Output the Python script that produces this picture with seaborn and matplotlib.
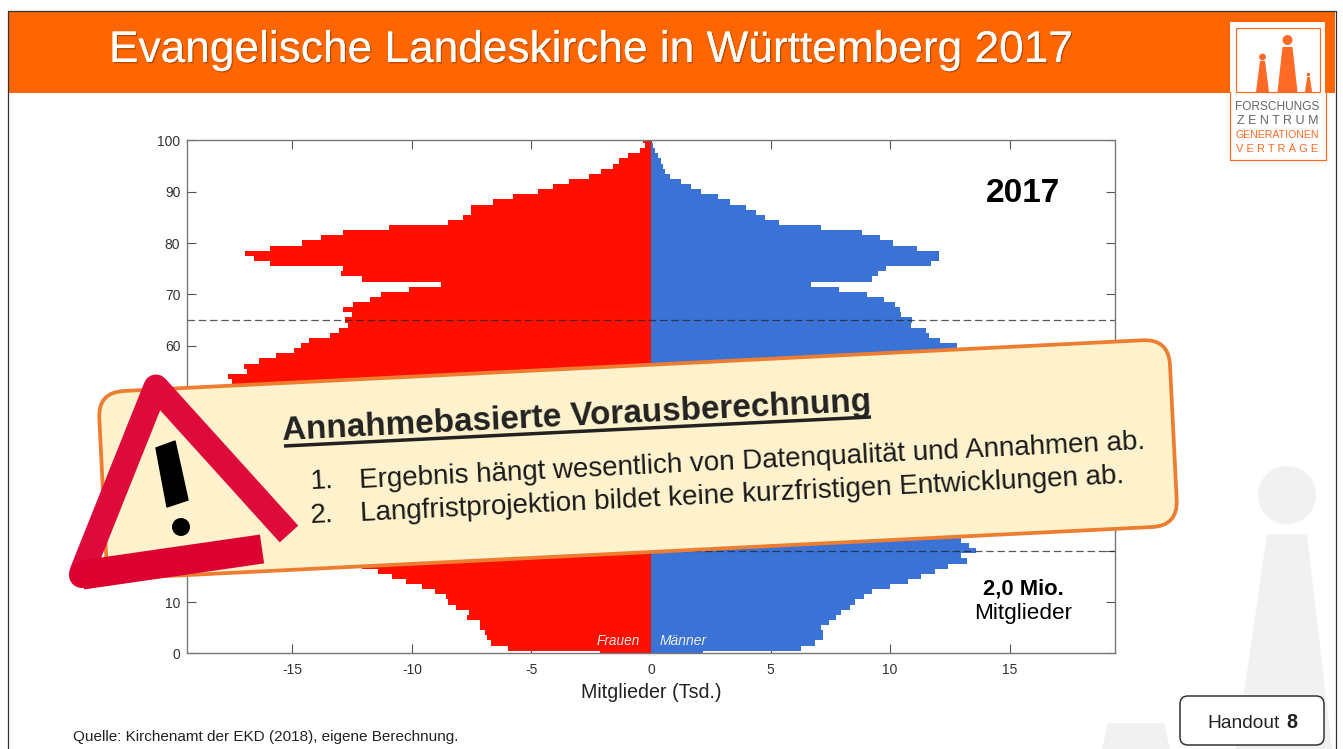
import numpy as np
import pandas as pd
import matplotlib
matplotlib.use("Agg")
import matplotlib.pyplot as plt
import matplotlib.patheffects as pe
from matplotlib.patches import FancyBboxPatch, Polygon, Circle, Rectangle
from matplotlib.transforms import Affine2D
import seaborn as sns

# ---- data (members in thousands, by age 0..100) ----
ages = list(range(0, 101))
women = [2.15, 5.97, 6.68, 6.86, 6.95, 7.14, 7.17, 7.68, 7.61, 8.14,
         8.49, 8.56, 9.04, 9.57, 10.26, 10.82, 11.41, 12.08, 12.6, 12.9,
         13.1, 13.0, 12.8, 12.5, 12.2, 11.9, 11.6, 11.4, 11.2, 11.1,
         11.0, 11.0, 11.1, 11.2, 11.3, 11.5, 11.8, 12.0, 12.3, 12.6,
         13.0, 13.4, 13.8, 14.2, 14.6, 15.0, 15.5, 15.8, 16.2, 16.5,
         16.8, 17.1, 17.3, 17.54, 17.7, 16.91, 17.02, 16.38, 15.68, 14.93,
         14.65, 14.3, 13.45, 13.07, 12.68, 12.82, 12.5, 12.9, 12.48, 11.75,
         11.28, 10.13, 8.79, 12.08, 12.96, 12.89, 15.93, 16.6, 16.98, 15.93,
         14.62, 13.8, 12.87, 10.96, 8.48, 7.87, 7.52, 7.52, 6.62, 5.78,
         4.73, 4.11, 3.45, 2.6, 2.09, 1.6, 1.32, 0.96, 0.48, 0.27, 0.34]
men = [2.17, 6.28, 6.87, 7.19, 7.19, 7.12, 7.45, 7.72, 7.97, 8.33,
       8.54, 8.93, 9.25, 9.98, 10.77, 11.3, 11.89, 12.42, 13.2, 12.98,
       13.6, 13.3, 12.97, 12.8, 12.5, 12.2, 11.9, 11.6, 11.4, 11.2,
       11.1, 11.0, 11.0, 11.1, 11.2, 11.3, 11.5, 11.7, 11.9, 12.1,
       12.3, 12.5, 12.7, 12.9, 13.1, 13.3, 13.5, 13.7, 13.9, 14.0,
       14.1, 14.2, 14.1, 14.0, 13.9, 13.8, 13.7, 13.6, 13.4, 13.1,
       12.82, 12.09, 11.61, 11.49, 10.89, 10.93, 10.47, 10.4, 10.2, 9.74,
       9.02, 7.86, 6.69, 9.23, 9.5, 9.85, 11.72, 12.03, 12.07, 11.14,
       10.12, 9.59, 8.81, 7.13, 5.35, 4.79, 4.4, 3.98, 3.3, 2.81,
       2.11, 1.68, 1.26, 0.8, 0.58, 0.5, 0.43, 0.29, 0.17, 0.08, 0.02]
x_ticks = [-15, -10, -5, 0, 5, 10, 15]
y_ticks = list(range(0, 101, 10))
guide_ages = [65, 20]

W, H = 1343, 749
FONT = "Liberation Sans"
plt.rcParams["font.family"] = [FONT, "DejaVu Sans"]
sns.set_style("white")
plt.rcParams["font.family"] = [FONT, "DejaVu Sans"]

RED, BLUE = "#FF0F00", "#3A72D6"
ORANGE, BOX_EDGE, BOX_FILL = "#FF6600", "#ED7D31", "#FFF2CC"
GHOST, LOGO = "#F1F1F1", "#FF6A26"

fig = plt.figure(figsize=(W / 100, H / 100), dpi=100, facecolor="white")


def pixel_axes(z):
    a = fig.add_axes([0, 0, 1, 1], zorder=z)
    a.set_xlim(0, W)
    a.set_ylim(H, 0)
    a.axis("off")
    a.patch.set_alpha(0)
    return a


# ---- slide background ----
bg = pixel_axes(0)
bg.add_patch(Circle((1287, 495), 29, fc=GHOST, ec="none"))
bg.add_patch(Polygon([(1267, 534), (1307, 534), (1332, 749), (1236, 749)], fc=GHOST, ec="none"))
bg.add_patch(Polygon([(1108, 723), (1164, 723), (1170, 749), (1102, 749)], fc=GHOST, ec="none"))
bg.add_patch(Rectangle((8, 11), 1327, 82, fc=ORANGE, ec="none"))
bg.plot([7.5, 7.5, 1335.5, 1335.5], [749, 10.5, 10.5, 749], color="#333333", lw=0.9)
bg.text(109, 50.5, "Evangelische Landeskirche in Württemberg 2017", color="white",
        fontsize=31.85, va="center", ha="left",
        path_effects=[pe.withSimplePatchShadow(offset=(1.0, -1.0), shadow_rgbFace="#8a3a00", alpha=0.6), pe.Normal()])
bg.text(73, 737, "Quelle: Kirchenamt der EKD (2018), eigene Berechnung.", color="#222222",
        fontsize=11, va="center", ha="left")

# ---- pyramid ----
L, R, T, B = 187.3, 1114.7, 140.5, 653.3
ax = fig.add_axes([L / W, 1 - B / H, (R - L) / W, (B - T) / H], zorder=1, facecolor="white")
df = pd.DataFrame({
    "Alter": ages + ages,
    "Mitglieder": [-v for v in women] + men,
    "Geschlecht": ["Frauen"] * len(ages) + ["Männer"] * len(ages),
})
sns.barplot(data=df, x="Mitglieder", y="Alter", hue="Geschlecht", orient="y", native_scale=True,
            dodge=False, width=1, palette={"Frauen": RED, "Männer": BLUE}, saturation=1,
            linewidth=0, errorbar=None, legend=False, ax=ax)
ax.set_xlim(-19.4, 19.4)
ax.set_ylim(0, 100)
ax.set_xticks(x_ticks)
ax.set_yticks(y_ticks)
ax.set_xticklabels([str(v) for v in x_ticks])
ax.tick_params(axis="both", direction="in", length=6.5, width=0.8, color="#555555",
               labelcolor="#333333", labelsize=10, top=True, right=True, bottom=True, left=True)
ax.tick_params(axis="x", pad=7)
ax.tick_params(axis="y", pad=5)
for s in ax.spines.values():
    s.set_color("#777777")
    s.set_linewidth(1.0)
for g in guide_ages:
    ax.axhline(g, color="#222222", alpha=0.75, lw=0.9, ls=(0, (6, 3)))
ax.set_xlabel("")
ax.set_ylabel("")
ax.text(-0.45, 2.4, "Frauen", color="white", style="italic", fontsize=9.8, ha="right", va="center", alpha=0.9)
ax.text(0.35, 2.4, "Männer", color="white", style="italic", fontsize=10, ha="left", va="center", alpha=0.9)

# ---- overlay ----
ov = pixel_axes(2)
ov.text(651.5, 692.5, "Mitglieder (Tsd.)", ha="center", va="center", fontsize=14.1, color="#222222")
ov.text(1023, 194, "2017", ha="center", va="center", fontsize=24, fontweight="bold", color="black")
ov.text(1023, 589, "2,0 Mio.", ha="center", va="center", fontsize=15.8, fontweight="bold", color="black")
ov.text(1023, 614, "Mitglieder", ha="center", va="center", fontsize=16.2, color="black")

# warning box
ANG = -2.85
cx, cy = 638, 459
bw, bh = 1072, 187
rot = Affine2D().rotate_deg_around(cx, cy, ANG) + ov.transData
ov.add_patch(FancyBboxPatch((cx - bw / 2 + 26, cy - bh / 2 + 26), bw - 52, bh - 52,
                            boxstyle="round,pad=26,rounding_size=26", fc=BOX_FILL, ec=BOX_EDGE,
                            lw=2.7, transform=rot, zorder=3))
TXT = "#1a1a1a"
ov.text(283, 440, "Annahmebasierte Vorausberechnung", fontsize=23.96, fontweight="bold", color="#222222",
        rotation=-ANG, rotation_mode="anchor", ha="left", va="baseline", zorder=5)
ov.plot([284, 871], [446, 417], color="#222222", lw=2.5, zorder=5, solid_capstyle="butt")
for xn, yn, xt, yt, num, line in [
    (311, 489, 360, 488, "1.", "Ergebnis hängt wesentlich von Datenqualität und Annahmen ab."),
    (311, 523, 361, 521, "2.", "Langfristprojektion bildet keine kurzfristigen Entwicklungen ab."),
]:
    ov.text(xn, yn, num, fontsize=20, color=TXT, rotation=-ANG, rotation_mode="anchor",
            ha="left", va="baseline", zorder=5)
    ov.text(xt, yt, line, fontsize=20, color=TXT, rotation=-ANG, rotation_mode="anchor",
            ha="left", va="baseline", zorder=5)

# warning triangle
TRI = "#DE0A3C"
ov.plot([156, 82], [387, 572], color=TRI, lw=18, solid_capstyle="round", zorder=6)
ov.plot([156, 289], [387, 534], color=TRI, lw=18, solid_capstyle="butt", zorder=6)
ov.plot([82, 262], [575, 549], color="#DC0030", lw=21, solid_capstyle="butt", zorder=6)
ov.add_patch(Circle((82, 575), 13, fc="#DC0030", ec="none", zorder=6))
ov.add_patch(Polygon([(156, 448), (175, 441), (188, 500), (167, 507)], fc="black", ec="black", lw=1, zorder=7))
ov.add_patch(Circle((181, 527), 9, fc="black", ec="none", zorder=7))

# logo
ov.add_patch(Rectangle((1230, 22), 95, 71, fc="white", ec="none", zorder=4))
ov.add_patch(Rectangle((1236, 28), 84, 64, fc="white", ec=LOGO, lw=0.9, zorder=4))
ov.plot([1229.5, 1229.5, 1325.5, 1325.5], [92, 160, 160, 92], color=LOGO, lw=0.9, zorder=4)
ov.add_patch(Rectangle((1230, 93), 95, 66, fc="white", ec="none", zorder=3.5))
for c, r, top, tw, bw2 in [((1287.5, 40), 5, 47, 5, 10), ((1262.5, 57), 3.4, 61, 2.5, 6.5), ((1308.5, 74.5), 1.8, 77, 1.3, 3.6)]:
    ov.add_patch(Circle(c, r, fc=LOGO, ec="none", zorder=5))
    ov.add_patch(Polygon([(c[0] - tw, top), (c[0] + tw, top), (c[0] + bw2, 92), (c[0] - bw2, 92)], fc=LOGO, ec="none", zorder=5))
for y, s, col, fs in [(107.5, "FORSCHUNGS", "#666666", 8.6), (121.5, "Z E N T R U M", "#666666", 9),
                      (135.5, "GENERATIONEN", LOGO, 7.6), (149.5, "V E R T R Ä G E", LOGO, 8)]:
    ov.text(1277.5, y, s, ha="center", va="center", fontsize=fs, color=col, zorder=5)

# handout tag
ov.add_patch(FancyBboxPatch((1187, 703), 130, 35, boxstyle="round,pad=7,rounding_size=8", fc="white", ec="#333333", lw=1.1, zorder=5))
ov.text(1207, 723, "Handout", ha="left", va="center", fontsize=13.8, color="#222222", zorder=6)
ov.text(1286, 723, "8", ha="left", va="center", fontsize=14.2, fontweight="bold", color="#222222", zorder=6)

fig.savefig("out.png", dpi=100)
